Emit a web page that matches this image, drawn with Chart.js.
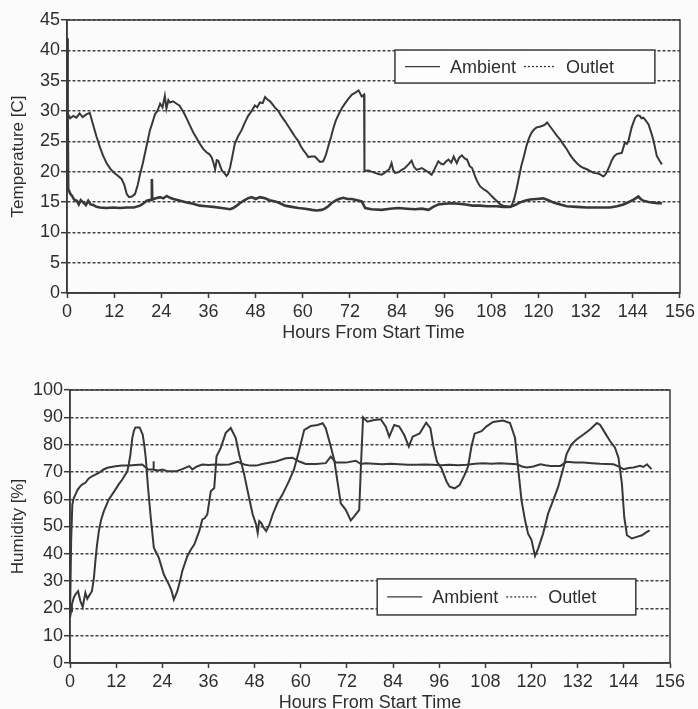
<!DOCTYPE html>
<html>
<head>
<meta charset="utf-8">
<script src="https://cdn.jsdelivr.net/npm/chart.js@4.4.1/dist/chart.umd.min.js"></script>
<style>
  html, body { margin: 0; padding: 0; background: #fbfbfb; width: 698px; height: 709px; overflow: hidden; }
  .wrap { position: absolute; left: 0; width: 698px; height: 350px; }
  #w1 { top: 0; }
  #w2 { top: 370px; }
</style>
</head>
<body>
<div class="wrap" id="w1"><canvas id="c1" width="698" height="350"></canvas></div>
<div class="wrap" id="w2"><canvas id="c2" width="698" height="350"></canvas></div>
<script>
// ---------------- DATA ----------------
const seriesNames = ["Ambient", "Outlet"];
const hourTicks = [0, 12, 24, 36, 48, 60, 72, 84, 96, 108, 120, 132, 144, 156];
const tempTicks = [0, 5, 10, 15, 20, 25, 30, 35, 40, 45];
const humidityTicks = [0, 10, 20, 30, 40, 50, 60, 70, 80, 90, 100];

const tempAmbientHours = [0,0.8,1.6,2.4,3.2,4.0,4.8,5.8,6.7,7.5,8.4,9.2,10.1,11.0,11.8,12.8,13.9,14.6,15.2,15.8,16.5,17.3,18.0,18.6,19.3,19.9,20.5,21.1,21.8,22.4,23.0,23.7,24.3,24.9,25.3,25.8,26.2,27.0,27.9,28.6,29.2,29.9,30.5,31.3,32.1,33.0,33.8,34.6,35.5,36.2,36.8,37.3,37.7,38.1,38.5,39.0,39.4,40.0,40.6,41.0,41.5,42.1,42.7,43.5,44.4,45.2,46.1,47.0,47.8,48.4,49.1,49.8,50.4,51.0,51.7,52.9,53.8,54.6,55.5,56.4,57.2,58.0,58.9,59.5,60.1,60.8,61.4,62.2,63.1,63.8,64.4,65.2,65.9,66.5,67.2,67.8,68.4,69.1,69.9,70.8,71.6,72.5,73.3,74.2,75.0,75.6,75.7,76.7,77.5,78.4,79.2,80.1,80.8,81.4,82.0,82.6,83.0,83.5,84.3,85.2,86.0,86.9,87.7,88.3,89.0,90.3,91.5,92.8,93.6,94.5,95.2,95.8,96.5,97.1,97.8,98.4,99.2,99.8,100.5,101.2,101.8,102.5,103.1,103.8,104.4,105.1,106.0,106.8,107.6,108.5,109.3,110.1,111.0,111.8,112.5,113.1,113.8,114.4,115.0,115.6,116.3,116.9,117.5,118.2,118.8,119.5,120.3,121.2,121.7,122.2,123.0,123.8,124.6,125.5,126.3,127.2,128.0,128.9,129.8,130.6,131.5,132.3,133.2,134.0,135.2,135.8,136.5,137.0,137.5,138.1,138.6,139.2,139.9,140.5,141.2,141.6,142.0,142.5,142.9,143.3,143.7,144.2,144.6,145.2,145.8,146.2,146.7,147.3,148.0,148.6,149.2,149.7,150.1,150.8,151.4];
const tempAmbient = [29.8,28.8,29.2,28.9,29.6,29.0,29.4,29.7,27.6,25.8,24.0,22.6,21.4,20.5,19.9,19.4,18.8,17.8,16.3,15.8,15.9,16.3,17.8,19.6,21.4,23.2,25.0,26.8,28.2,29.5,30.0,31.2,30.6,32.5,30.4,31.8,31.4,31.6,31.2,30.9,30.3,29.5,28.7,27.6,26.5,25.5,24.6,23.8,23.2,22.9,22.4,21.4,20.4,21.9,21.8,20.9,20.2,19.8,19.3,19.6,20.7,22.6,24.6,25.8,26.8,28.0,29.2,30.0,30.9,30.6,31.4,31.3,32.3,31.9,31.6,30.6,30.0,29.1,28.3,27.4,26.6,25.8,25.0,24.2,23.6,23.0,22.4,22.5,22.5,22.0,21.6,21.7,22.8,24.2,25.7,27.2,28.4,29.4,30.4,31.3,32.0,32.7,33.0,33.4,32.4,32.7,20.1,20.2,20.0,19.8,19.6,19.5,19.8,20.1,20.4,21.4,20.3,19.8,19.9,20.3,20.6,21.2,21.8,20.8,20.3,20.6,20.1,19.5,20.5,21.7,21.3,21.2,21.7,22.0,21.5,22.5,21.4,22.3,22.7,22.2,22.0,20.9,20.6,19.3,18.4,17.6,17.1,16.8,16.3,15.7,15.2,14.7,14.4,14.3,14.2,14.3,15.5,17.1,19.0,20.9,22.6,24.2,25.4,26.4,26.9,27.3,27.4,27.6,27.8,28.1,27.4,26.7,26.0,25.3,24.5,23.7,22.8,22.0,21.4,20.9,20.6,20.4,20.1,19.8,19.7,19.5,19.2,19.5,20.1,21.0,21.8,22.5,22.9,23.0,23.1,24.0,24.8,24.6,25.1,26.2,27.3,28.2,28.9,29.3,29.2,28.8,28.9,28.4,27.8,26.6,25.3,23.8,22.6,21.8,21.2];

const tempOutletHours = [0,0.15,0.3,0.8,1.3,1.8,2.5,3.0,3.5,4.2,4.8,5.4,6.0,6.7,7.5,8.4,10.0,11.8,13.5,15.2,17.0,18.6,19.5,20.3,21.5,21.6,21.7,22.6,23.7,24.5,25.4,26.2,27.1,28.8,30.5,32.1,33.8,35.5,37.2,39.4,41.5,42.3,43.2,44.0,44.9,46.0,47.0,48.0,49.1,50.4,51.5,53.0,54.2,55.5,57.2,58.9,60.6,62.3,63.5,64.8,65.6,66.5,67.3,68.2,69.2,70.3,71.4,72.5,73.8,75.0,75.9,77.5,80.1,82.2,84.3,86.5,88.6,90.3,92.0,93.2,94.5,96.2,97.9,99.6,101.4,103.2,105.1,107.0,109.3,111.0,112.7,114.0,115.2,116.5,117.8,119.5,121.2,122.5,123.8,125.5,127.2,129.7,132.3,135.2,138.2,140.0,141.6,143.0,144.2,145.4,146.0,146.7,148.0,149.2,150.3,151.4];
const tempOutlet = [42,30,17.2,16.4,16.0,15.4,15.2,14.6,15.3,14.9,14.5,15.2,14.6,14.5,14.2,14.1,14.0,14.1,14.0,14.1,14.1,14.4,14.8,15.2,15.4,18.8,15.4,15.6,15.8,15.6,16.0,15.7,15.5,15.2,14.9,14.7,14.4,14.3,14.2,14.0,13.8,14.0,14.4,14.8,15.2,15.6,15.8,15.5,15.8,15.6,15.3,15.1,14.8,14.4,14.2,14.0,13.9,13.7,13.6,13.7,13.9,14.3,14.8,15.2,15.5,15.7,15.5,15.5,15.3,15.1,14.0,13.8,13.7,13.9,14.0,13.9,13.8,13.9,13.7,14.2,14.6,14.7,14.8,14.7,14.6,14.4,14.4,14.3,14.3,14.2,14.2,14.5,14.9,15.2,15.4,15.5,15.6,15.3,14.9,14.6,14.3,14.2,14.1,14.1,14.1,14.3,14.6,15.0,15.4,15.9,15.5,15.2,15.0,14.9,14.8,14.8];

const humAmbientHours = [0,0.3,0.5,1.0,1.4,2.1,2.7,3.3,4.0,4.5,4.9,5.7,6.2,6.6,7.0,7.5,8.1,8.8,10.1,11.8,12.7,13.6,14.9,15.3,15.7,16.2,16.6,17.0,18.1,18.9,19.3,19.7,20.3,21.0,21.8,22.4,23.1,24.4,25.7,26.4,27.0,27.9,28.6,29.2,30.5,31.4,32.3,33.6,34.4,35.0,35.7,36.6,37.5,38.1,39.2,40.5,41.8,43.1,44.0,45.3,46.2,47.5,48.4,48.8,49.2,49.7,50.4,51.0,51.8,52.7,53.9,55.2,56.9,58.2,59.6,60.9,62.6,64.4,65.7,66.5,67.8,68.7,69.6,70.4,71.7,73.0,73.9,75.2,75.6,76.2,77.3,79.1,80.8,82.1,83.0,84.3,85.6,86.9,88.1,89.1,90.9,92.6,93.7,94.5,95.4,96.6,97.9,98.7,100.0,101.3,102.6,103.5,104.4,105.2,107.0,108.3,110.0,112.6,114.4,115.7,116.5,117.4,118.3,119.1,120.0,120.9,121.7,123.0,124.3,125.6,126.9,128.3,129.1,130.4,131.7,133.5,135.2,137.0,137.8,139.1,140.4,141.7,142.6,143.5,144.1,144.8,146.1,147.4,148.7,150.0,150.7];
const humAmbient = [16.6,19,21.5,24.0,25.1,26.3,22.7,20.5,25.7,23.5,24.5,26.3,31,37.3,43,48.3,52.5,55.6,59.9,63.5,65.5,67.2,70.2,73,76.3,82.4,85,86.3,86.3,83.7,80,75.1,64.1,53.2,42.2,40.5,38.5,32.4,28.8,26.5,23.2,26.3,30,33.7,39.1,41.5,43.4,48.3,52.6,53.0,54.4,62.9,64.1,75.7,78.8,84.3,86.1,82.4,76.3,69,62.9,54.4,50.7,47.7,52,51.3,49.5,48.3,50.5,54.4,58.5,61.6,66.5,70.7,78,85.4,86.8,87.2,87.8,86,79.3,74.4,65.9,58.5,56.1,52.2,53.7,56.1,70.7,90,88.4,89,89.3,86.6,82.9,87.2,86.6,83.5,79.3,82.9,84.1,88,86,79.3,73.8,71.3,66.5,64.6,64,65.2,68.9,72,79.5,84,84.9,86.7,88.3,88.8,87.9,82.5,71.6,59.5,52.4,47.4,45,39.2,41.8,47.4,54.7,59.5,64.4,71.6,76.5,80.1,81.9,83.7,85.5,87.9,87.3,84.3,81.3,78.9,75.2,65.6,53.5,46.8,45.6,46.2,46.8,48,48.6];

const humOutletHours = [0,0.3,0.6,1.0,1.4,2.0,2.7,3.3,4.0,4.8,5.7,6.6,7.5,8.6,9.7,11.8,13.5,15.3,17.0,18.8,20.3,21.6,21.7,21.8,23.0,24.0,25.5,27.5,29.2,31.0,31.8,33.0,34.4,36.0,37.9,39.6,41.4,43.6,45.3,46.8,48.4,50.0,51.0,53.5,56.1,57.8,59.6,61.3,63.9,66.5,67.8,69.1,71.7,74.3,75.6,76.9,79.0,81.2,83.4,85.6,87.8,90.0,92.2,94.3,96.5,98.7,100.9,103.1,105.3,107.5,109.6,111.8,114.0,116.2,117.5,118.8,120.5,122.3,123.6,124.9,127.5,129.1,131.3,133.5,135.7,137.8,139.6,141.3,142.6,143.9,145.2,146.5,148.2,149.1,150.0,151.2];
const humOutlet = [16.6,45,58,60.5,61.7,63.5,64.8,65.5,66,67.5,68.4,69.0,69.6,70.8,71.5,72.1,72.3,72.3,72.5,72.7,70.9,70.9,73.9,70.8,70.5,70.9,70.2,70.2,71.0,72.1,70.9,72.0,72.7,72.5,72.7,72.6,72.7,73.7,72.7,72.3,72.3,72.9,73.2,73.8,75.0,75.2,73.8,72.9,72.9,73.2,75.6,73.4,73.4,74.1,72.9,73.2,73.0,72.8,73.0,72.8,72.6,72.6,72.7,72.6,72.4,72.6,72.4,72.6,73.0,73.2,73.0,73.2,73.0,72.8,72.0,71.6,72.0,72.8,72.4,72.2,72.2,73.7,73.4,73.4,73.2,73.0,72.9,72.8,72.0,71.0,71.4,71.6,72.2,71.8,72.8,71.0];

// ---------------- HELPERS ----------------
const pts = (xs, ys) => xs.map((x, i) => ({ x: x, y: ys[i] }));
const FONT = "'Liberation Sans', Arial, sans-serif";
const INK = '#2e2e2e';
const LINE = '#383838';

const frameAndLegend = {
  id: 'frameAndLegend',
  afterDraw(chart, args, o) {
    const { ctx, chartArea: a } = chart;
    ctx.save();
    ctx.strokeStyle = '#3a3a3a';
    ctx.lineWidth = 1.5;
    ctx.setLineDash([]);
    ctx.strokeRect(a.left, a.top, a.right - a.left, a.bottom - a.top);
    const w = a.right - a.left, h = a.bottom - a.top;
    const x0 = a.left + o.x0 * w, x1 = a.left + o.x1 * w;
    const y0 = a.top + o.y0 * h, y1 = a.top + o.y1 * h;
    ctx.fillStyle = '#fdfdfd';
    ctx.fillRect(x0, y0, x1 - x0, y1 - y0);
    ctx.strokeRect(x0, y0, x1 - x0, y1 - y0);
    const yc = (y0 + y1) / 2;
    ctx.font = "18px " + FONT;
    ctx.textBaseline = 'middle';
    ctx.textAlign = 'left';
    let x = x0 + 10;
    chart.data.datasets.forEach((ds, i) => {
      ctx.strokeStyle = LINE;
      ctx.lineWidth = 1.3;
      ctx.setLineDash(i === 0 ? [] : [2, 2]);
      const len = i === 0 ? 35 : 30;
      ctx.beginPath();
      ctx.moveTo(x, yc);
      ctx.lineTo(x + len, yc);
      ctx.stroke();
      x += len + (i === 0 ? 10 : 12);
      ctx.fillStyle = INK;
      ctx.fillText(ds.label, x, yc + 1);
      x += ctx.measureText(ds.label).width + 8;
    });
    ctx.restore();
  }
};

function makeChart(canvasId, cfg) {
  return new Chart(document.getElementById(canvasId), {
    type: 'line',
    data: {
      datasets: [
        { label: seriesNames[0], data: pts(cfg.hA, cfg.vA), borderColor: LINE, borderWidth: 2, pointRadius: 0, tension: 0 },
        { label: seriesNames[1], data: pts(cfg.hO, cfg.vO), borderColor: LINE, borderWidth: cfg.outletWidth, pointRadius: 0, tension: 0 }
      ]
    },
    options: {
      responsive: false,
      animation: false,
      events: [],
      layout: { padding: { top: 20, right: cfg.padRight, left: 0, bottom: 0 } },
      plugins: {
        legend: { display: false },
        tooltip: { enabled: false },
        frameAndLegend: cfg.legend
      },
      scales: {
        x: {
          type: 'linear',
          min: 0, max: 156,
          afterBuildTicks: s => { s.ticks = hourTicks.map(v => ({ value: v })); },
          afterFit: s => { s.height = 57; },
          grid: { drawOnChartArea: false, drawTicks: true, tickLength: 5, tickColor: '#3a3a3a', tickWidth: 1.5 },
          border: { display: true, color: '#3a3a3a', width: 1.5 },
          ticks: { color: INK, font: { family: FONT, size: 18 }, padding: 3, maxRotation: 0, autoSkip: false },
          title: { display: true, text: 'Hours From Start Time', color: INK, font: { family: FONT, size: 18 }, padding: { top: 7, bottom: 6 } }
        },
        y: {
          type: 'linear',
          min: cfg.yTicks[0], max: cfg.yTicks[cfg.yTicks.length - 1],
          afterBuildTicks: s => { s.ticks = cfg.yTicks.map(v => ({ value: v })); },
          afterFit: s => { s.width = cfg.yWidth; },
          grid: {
            drawOnChartArea: true, drawTicks: true, tickLength: 6,
            color: '#404040', lineWidth: 1.4,
            tickColor: '#3a3a3a', tickWidth: 1.5, tickBorderDash: []
          },
          border: { display: true, color: '#3a3a3a', width: 1.5, dash: [3, 2] },
          ticks: { color: INK, font: { family: FONT, size: 18 }, padding: 1, autoSkip: false },
          title: { display: true, text: cfg.yTitle, color: INK, font: { family: FONT, size: 17 }, padding: { top: 8, bottom: 8 } }
        }
      }
    },
    plugins: [frameAndLegend]
  });
}

makeChart('c1', {
  hA: tempAmbientHours, vA: tempAmbient, hO: tempOutletHours, vO: tempOutlet,
  yTicks: tempTicks, yTitle: 'Temperature [C]', yWidth: 67, padRight: 18, outletWidth: 2.6,
  legend: { x0: 0.535, x1: 0.959, y0: 0.11, y1: 0.231 }
});
makeChart('c2', {
  hA: humAmbientHours, vA: humAmbient, hO: humOutletHours, vO: humOutlet,
  yTicks: humidityTicks, yTitle: 'Humidity [%]', yWidth: 70, padRight: 28, outletWidth: 2,
  legend: { x0: 0.512, x1: 0.943, y0: 0.692, y1: 0.824 }
});
</script>
</body>
</html>
